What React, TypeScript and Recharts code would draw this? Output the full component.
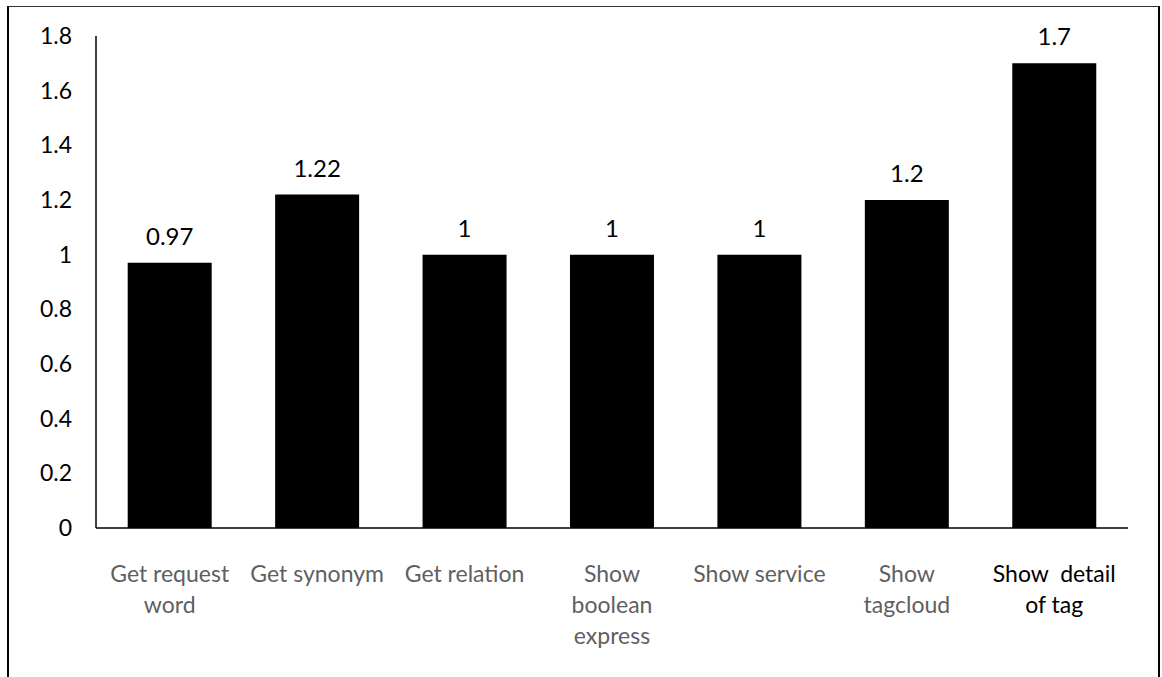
import React from "react";
import { BarChart, Bar, XAxis, YAxis, LabelList } from "recharts";

const categories = [
  "Get request word",
  "Get synonym",
  "Get relation",
  "Show boolean express",
  "Show service",
  "Show tagcloud",
  "Show  detail of tag",
];
const tickLines = [
  ["Get request", "word"],
  ["Get synonym"],
  ["Get relation"],
  ["Show", "boolean", "express"],
  ["Show service"],
  ["Show", "tagcloud"],
  ["Show  detail", "of tag"],
];
const values = [0.97, 1.22, 1, 1, 1, 1.2, 1.7];
const yTicks = [0, 0.2, 0.4, 0.6, 0.8, 1, 1.2, 1.4, 1.6, 1.8];

const data = categories.map((name, i) => ({ name, value: values[i] }));

const FONT = "Lato, 'Open Sans', sans-serif";

function CategoryTick(props: any) {
  const { x, y, index } = props;
  const lines = tickLines[index] || [];
  const color = index === 6 ? "#000" : "#5f5f5f";
  return (
    <text x={x} y={y + 46} textAnchor="middle" fontFamily={FONT} fontSize={23} fill={color} style={{ whiteSpace: "pre" }}>
      {lines.map((l, i) => (
        <tspan key={i} x={x} dy={i === 0 ? 0 : 31}>
          {l}
        </tspan>
      ))}
    </text>
  );
}

function ValueTick(props: any) {
  const { x, y, payload } = props;
  return (
    <text x={x - 16} y={y + 8} textAnchor="end" fontFamily={FONT} fontSize={23} fill="#000">
      {String(payload.value)}
    </text>
  );
}

export default function App() {
  return (
    <div style={{ position: "absolute", left: 0, top: 0, width: 1162, height: 677, background: "#fff", overflow: "hidden" }}>
      <div
        style={{
          position: "absolute",
          left: 7,
          top: 6,
          width: 1149,
          height: 700,
          borderTop: "1px solid #333",
          borderLeft: "2px solid #000",
          borderRight: "2px solid #000",
        }}
      />
      <div style={{ position: "absolute", left: 0, top: 0 }}>
        <BarChart
          width={1162}
          height={677}
          data={data}
          margin={{ top: 36, right: 34, bottom: 49, left: 0 }}
          barCategoryGap="21.5%"
        >
          <XAxis
            dataKey="name"
            interval={0}
            height={100}
            tickLine={false}
            axisLine={{ stroke: "#000", strokeWidth: 1.5 }}
            tick={<CategoryTick />}
          />
          <YAxis
            width={96}
            domain={[0, 1.8]}
            ticks={yTicks}
            interval={0}
            tickLine={false}
            axisLine={{ stroke: "#000", strokeWidth: 1.5 }}
            tick={<ValueTick />}
          />
          <Bar dataKey="value" fill="#000" isAnimationActive={false}>
            <LabelList
              dataKey="value"
              position="top"
              offset={18}
              fill="#000"
              style={{ fontSize: 24, fontFamily: FONT }}
            />
          </Bar>
        </BarChart>
      </div>
    </div>
  );
}
